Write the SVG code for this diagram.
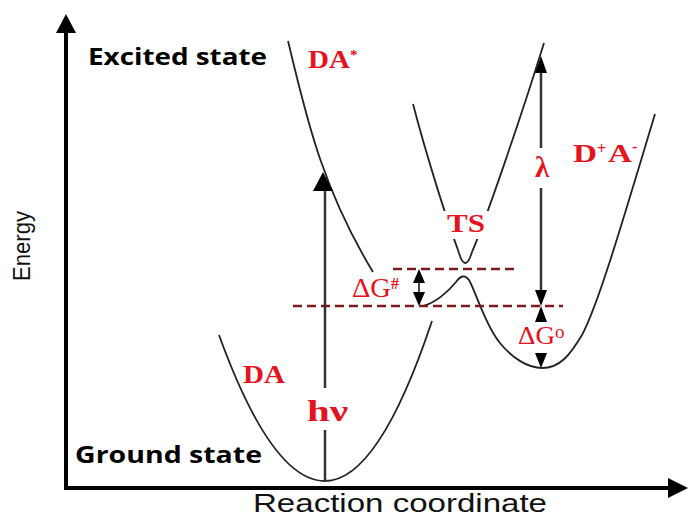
<svg xmlns="http://www.w3.org/2000/svg" width="688" height="518" viewBox="0 0 688 518">
  <style>
    .axis { stroke: #000; stroke-width: 4; fill: none; }
    .curve { stroke: #222; stroke-width: 1.8; fill: none; }
    .vline { stroke: #333; stroke-width: 2.5; fill: none; }
    .dash { stroke: #7b1c1c; stroke-width: 2.5; stroke-dasharray: 9 5; fill: none; }
    .head { fill: #000; }
    .state { font-family: "Open Sans", "Liberation Sans", sans-serif; font-weight: bold; font-size: 24px; fill: #000; }
    .axlabel { font-family: "Liberation Sans", Arial, sans-serif; font-size: 24px; fill: #111; }
    .red { font-family: "Liberation Serif", "Times New Roman", serif; font-weight: bold; fill: #e5131d; }
    .redr { font-family: "Liberation Serif", "Times New Roman", serif; fill: #e5131d; }
  </style>
  <rect width="688" height="518" fill="#fff"/>

  <g id="axes">
    <path class="axis" d="M66,487 V30 M64,488 H670"/>
    <polygon class="head" points="66,14 56,33 76,33"/>
    <polygon class="head" points="688,488 668,478 668,498"/>
    <text class="axlabel" transform="translate(30,281) rotate(-90)" textLength="70" lengthAdjust="spacingAndGlyphs">Energy</text>
    <text class="axlabel" x="253" y="512" style="font-size:25px" textLength="294" lengthAdjust="spacingAndGlyphs">Reaction coordinate</text>
  </g>

  <g id="state-labels">
    <text class="state" x="88" y="65" textLength="179" lengthAdjust="spacingAndGlyphs">Excited state</text>
    <text class="state" x="75" y="463" textLength="187" lengthAdjust="spacingAndGlyphs">Ground state</text>
  </g>

  <g id="curves">
    <path id="DA-curve" class="curve" d="M219,335 Q272,481 325,481 Q378.5,481 432,321"/>
    <path id="DAstar-curve" class="curve" d="M288,41 C305,110 320,185 373,272"/>
    <path id="upper-curve" class="curve" d="M413,104 C425,150 445,215 458,250 Q465,275 472,252 C485,222 520,120 544,43"/>
    <path id="lower-curve" class="curve" d="M423,306 C435,303 448,292 456,282 Q463,272 469,280 C476,292 485,325 500,343 C512,358 528,368 542,368 C560,368 570,355 582,335 C598,305 620,230 655,114"/>
  </g>

  <g id="connectors">
    <line class="dash" x1="393" y1="269" x2="517" y2="269"/>
    <line class="dash" x1="293" y1="306" x2="563" y2="306"/>
    <path class="vline" d="M325,481 V430 M325,388 V190"/>
    <polygon class="head" points="323,172 313,191 333,191"/>
    <path class="vline" d="M541,72 V148 M541,188 V292"/>
    <polygon class="head" points="541,56 535,73 547,73"/>
    <polygon class="head" points="541,306 535,290 547,290"/>
    <polygon class="head" points="541,306 535,322 547,322"/>
    <polygon class="head" points="541,368 535,353 547,353"/>
    <path class="vline" d="M419,282 V293" style="stroke-width:1.8"/>
    <polygon class="head" points="419,269 413,283 425,283"/>
    <polygon class="head" points="419,306 413,292 425,292"/>
  </g>

  <g id="TS-label">
    <rect x="441" y="211" width="54" height="28" fill="#fff"/>
    <text class="red" x="447" y="232" style="font-size:26px" textLength="38" lengthAdjust="spacingAndGlyphs">TS</text>
  </g>
  <g id="DAstar-label">
    <text class="red" x="308" y="68" style="font-size:25px" textLength="42" lengthAdjust="spacingAndGlyphs">DA</text>
    <text class="red" x="350" y="60" style="font-size:15px">*</text>
  </g>
  <g id="DA-label">
    <text class="red" x="243" y="383" style="font-size:25px" textLength="42" lengthAdjust="spacingAndGlyphs">DA</text>
  </g>
  <g id="DpAm-label">
    <text class="red" x="573" y="162" style="font-size:25px" textLength="24" lengthAdjust="spacingAndGlyphs">D</text>
    <text class="red" x="597" y="154" style="font-size:16px">+</text>
    <text class="red" x="608" y="162" style="font-size:25px" textLength="24" lengthAdjust="spacingAndGlyphs">A</text>
    <text class="red" x="632" y="152" style="font-size:16px">-</text>
  </g>
  <g id="lambda-label">
    <text class="red" x="535" y="177" style="font-size:29px">λ</text>
  </g>
  <g id="hnu-label">
    <text class="red" x="307" y="421" style="font-size:30px" textLength="41" lengthAdjust="spacingAndGlyphs">hν</text>
  </g>
  <g id="dGsharp-label">
    <text class="redr" x="352" y="297" style="font-size:27px" textLength="39" lengthAdjust="spacingAndGlyphs">ΔG</text>
    <text class="red" x="391" y="289" style="font-size:16px">#</text>
  </g>
  <g id="dG0-label">
    <text class="redr" x="518" y="344" style="font-size:26px" textLength="37" lengthAdjust="spacingAndGlyphs">ΔG</text>
    <text class="redr" x="555" y="338" style="font-size:19px">o</text>
  </g>
</svg>
